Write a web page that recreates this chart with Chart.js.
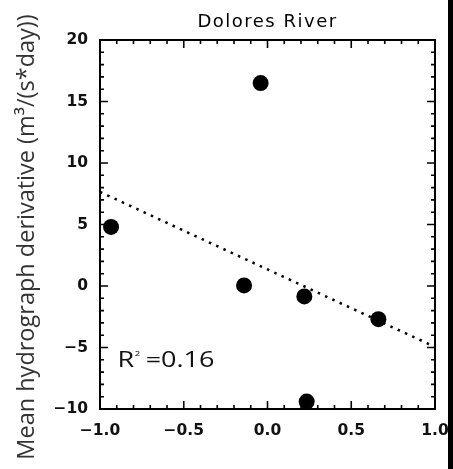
<!DOCTYPE html>
<html>
<head>
<meta charset="utf-8">
<script src="https://cdn.jsdelivr.net/npm/chart.js@4.4.1/dist/chart.umd.min.js"></script>
<style>
  html, body { margin: 0; padding: 0; background: #fff; }
  #wrap { width: 453px; height: 469px; position: relative; }
</style>
</head>
<body>
<div id="wrap"><canvas id="chart" width="453" height="469"></canvas></div>
<script>
// datos
const chartTitle = 'Dolores River';
const yTitle = 'Mean hydrograph derivative (m\u00b3/(s*day))';
const pointsX = [-0.934, -0.041, -0.140, 0.220, 0.662, 0.234];
const pointsY = [4.8, 16.5, 0.05, -0.85, -2.7, -9.4];
const trendX = [-1.0, 1.0];
const trendY = [7.65, -4.95];
const xTicks = [-1.0, -0.5, 0.0, 0.5, 1.0];
const yTicks = [-10, -5, 0, 5, 10, 15, 20];
const r2Label = '0.16';

const tickFont = { family: 'DejaVu Sans', size: 15.5, weight: 'bold' };
const fmt = (v, d) => v.toFixed(d).replace('-', '\u2212');

// ejes tipo IDL: caja y marcas hacia adentro
const boxPlugin = {
  id: 'boxPlugin',
  afterDraw(chart) {
    const ctx = chart.ctx;
    const { left, right, top, bottom } = chart.chartArea;
    const xs = chart.scales.x, ys = chart.scales.y;
    ctx.save();
    ctx.strokeStyle = '#000';
    ctx.lineWidth = 2;
    ctx.strokeRect(left, top, right - left, bottom - top);

    ctx.lineWidth = 1.6;
    ctx.beginPath();
    for (let i = -10; i <= 10; i++) {
      const px = xs.getPixelForValue(i / 10);
      const len = i % 5 === 0 ? 8 : 4;
      ctx.moveTo(px, bottom); ctx.lineTo(px, bottom - len);
      ctx.moveTo(px, top); ctx.lineTo(px, top + len);
    }
    for (let v = -10; v <= 20; v++) {
      const py = ys.getPixelForValue(v);
      const len = v % 5 === 0 ? 8 : 4;
      ctx.moveTo(left, py); ctx.lineTo(left + len, py);
      ctx.moveTo(right, py); ctx.lineTo(right - len, py);
    }
    ctx.stroke();

    // titulo
    ctx.fillStyle = '#000';
    ctx.font = '18px "DejaVu Sans"';
    ctx.letterSpacing = '1.5px';
    ctx.textAlign = 'center';
    ctx.textBaseline = 'alphabetic';
    ctx.fillText(chartTitle, (left + right) / 2, 27);
    ctx.letterSpacing = '0px';

    // titulo eje y
    ctx.save();
    ctx.translate(34, 237);
    ctx.rotate(-Math.PI / 2);
    ctx.font = '23.5px "Open Sans"';
    ctx.fillStyle = '#333';
    ctx.textAlign = 'center';
    ctx.fillText(yTitle, 0, 0);
    ctx.restore();

    // R^2 (texto un poco ensanchado como en el original)
    const rx = xs.getPixelForValue(-0.895);
    const ry = ys.getPixelForValue(-6.6);
    ctx.save();
    ctx.translate(rx, ry);
    ctx.scale(1.2, 1);
    ctx.font = '22.5px "Open Sans"';
    ctx.fillStyle = '#111';
    ctx.textAlign = 'left';
    ctx.fillText('R', 0, 0);
    let w = ctx.measureText('R').width;
    ctx.font = '8px "Open Sans"';
    ctx.fillText('2', w + 0.5, -11);
    w += 9.5;
    ctx.font = '22.5px "Open Sans"';
    ctx.fillText('=' + r2Label, w, 0);
    ctx.restore();

    // franja negra a la derecha
    ctx.fillStyle = '#000';
    ctx.fillRect(448, 0, 5, chart.height);
    ctx.restore();
  }
};

new Chart(document.getElementById('chart'), {
  type: 'scatter',
  data: {
    datasets: [
      {
        label: 'datos',
        data: pointsX.map((x, i) => ({ x: x, y: pointsY[i] })),
        backgroundColor: '#000',
        borderWidth: 0,
        pointRadius: 8,
        pointHoverRadius: 8
      },
      {
        label: 'ajuste',
        data: trendX.map((x, i) => ({ x: x, y: trendY[i] })),
        showLine: true,
        borderColor: '#000',
        borderWidth: 2.5,
        borderDash: [2.5, 5.5],
        pointRadius: 0,
        fill: false
      }
    ]
  },
  options: {
    responsive: false,
    animation: false,
    events: [],
    layout: { padding: { top: 40, right: 18, left: 0, bottom: 0 } },
    plugins: {
      legend: { display: false },
      title: { display: false },
      tooltip: { enabled: false }
    },
    scales: {
      x: {
        type: 'linear',
        min: -1, max: 1,
        afterFit: s => { s.height = 60; s.paddingLeft = 0; s.paddingRight = 0; },
        afterBuildTicks: s => { s.ticks = xTicks.map(v => ({ value: v })); },
        grid: { display: false, drawTicks: false },
        border: { display: false },
        ticks: {
          color: '#111', font: tickFont, padding: 13, maxRotation: 0,
          autoSkip: false,
          callback: v => fmt(v, 1)
        }
      },
      y: {
        type: 'linear',
        min: -10, max: 20,
        afterFit: s => { s.width = 100; s.paddingTop = 0; s.paddingBottom = 0; },
        afterBuildTicks: s => { s.ticks = yTicks.map(v => ({ value: v })); },
        grid: { display: false, drawTicks: false },
        border: { display: false },
        ticks: {
          color: '#111', font: tickFont, padding: 12,
          autoSkip: false,
          callback: v => fmt(v, 0)
        }
      }
    }
  },
  plugins: [boxPlugin]
});
</script>
</body>
</html>
